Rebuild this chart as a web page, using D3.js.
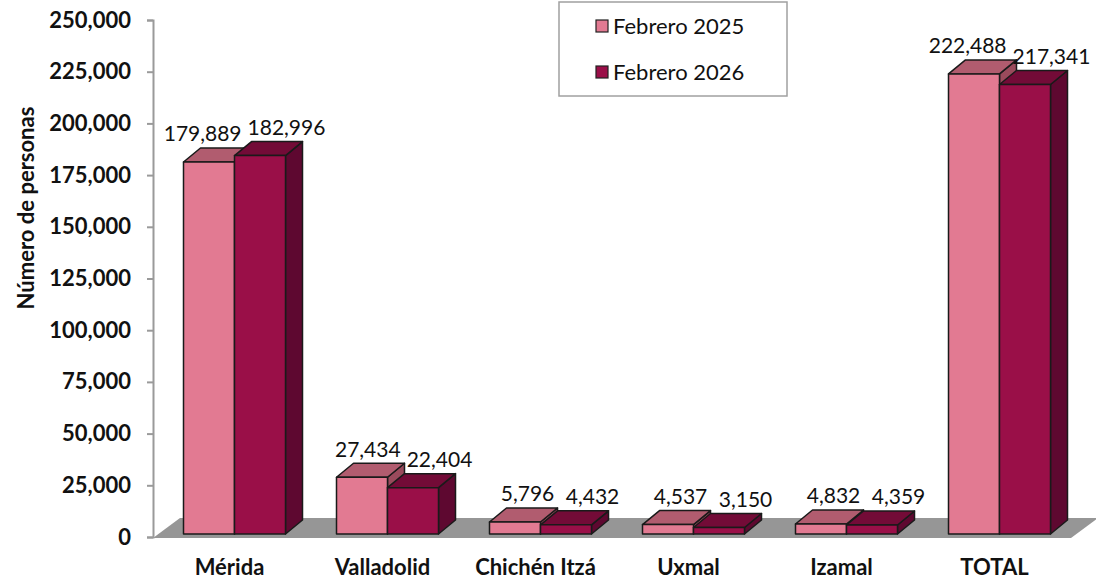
<!DOCTYPE html>
<html>
<head>
<meta charset="utf-8">
<script src="https://cdn.jsdelivr.net/npm/d3@7"></script>
<style>
  body { margin: 0; background: #fff; }
  text { font-family: Lato, "Open Sans", sans-serif; fill: #111; }
</style>
</head>
<body>
<div id="chart"></div>
<script>
// chart data
var categories = ["Mérida", "Valladolid", "Chichén Itzá", "Uxmal", "Izamal", "TOTAL"];
var seriesNames = ["Febrero 2025", "Febrero 2026"];
var feb2025 = [179889, 27434, 5796, 4537, 4832, 222488];
var feb2026 = [182996, 22404, 4432, 3150, 4359, 217341];
var yTicks = [0, 25000, 50000, 75000, 100000, 125000, 150000, 175000, 200000, 225000, 250000];

var svgWidth = 1096;
var svgHeight = 579;

// colours: front, top, side
var palette = [
  { front: "#e27a92", top: "#b15c6f", side: "#9a4a5c" },
  { front: "#9a0f48", top: "#730b37", side: "#5e0830" }
];

var svg = d3.select("#chart")
  .append("svg")
  .attr("width", svgWidth)
  .attr("height", svgHeight);

// scales
var xScale = d3.scaleBand()
  .domain(categories)
  .range([153, 1071])
  .paddingInner(1 / 3)
  .paddingOuter(1 / 6);

var xSeries = d3.scaleBand()
  .domain(seriesNames)
  .range([0, xScale.bandwidth()]);

var yScale = d3.scaleLinear()
  .domain([0, 250000])
  .range([537, 20]);

// 3d offsets
var depthX = 17, depthY = 14;   // bar depth
var recessX = 5, recessY = 3;   // bars sit a bit back from the floor front edge
var floorDX = 27, floorDY = 20;

// floor
var y0 = yScale(0);
svg.append("polygon")
  .attr("points", [
    [153, y0 + 1], [153 + floorDX, y0 + 1 - floorDY],
    [1071 + floorDX, y0 + 1 - floorDY], [1071, y0 + 1]
  ].map(p => p.join(",")).join(" "))
  .attr("fill", "#969696");

// y axis
var leftAxis = d3.axisLeft(yScale)
  .tickValues(yTicks)
  .tickFormat(d3.format(","))
  .tickSize(6)
  .tickPadding(16);

var axisG = svg.append("g")
  .attr("transform", "translate(153,0)")
  .call(leftAxis);
axisG.select(".domain").attr("stroke", "#9a9a9a").attr("stroke-width", 2);
axisG.selectAll(".tick line").attr("stroke", "#9a9a9a").attr("stroke-width", 2);
axisG.selectAll(".tick text")
  .style("font-family", "Lato, sans-serif")
  .style("font-size", "22px")
  .style("font-weight", "bold")
  .attr("fill", "#111");

svg.append("text")
  .attr("transform", "translate(26,208) rotate(-90)")
  .attr("text-anchor", "middle")
  .attr("dy", "0.35em")
  .style("font-size", "22px")
  .style("font-weight", "bold")
  .text("Número de personas");

// category labels
svg.append("g").selectAll("text")
  .data(categories)
  .enter()
  .append("text")
  .attr("x", d => xScale(d) + xScale.bandwidth() / 2)
  .attr("y", 575)
  .attr("text-anchor", "middle")
  .style("font-size", "22px")
  .style("font-weight", "bold")
  .text(d => d);

// bars
var allSeries = [feb2025, feb2026];
var barsG = svg.append("g");
var labelInfo = [];

categories.forEach(function(cat, i) {
  allSeries.forEach(function(values, s) {
    var v = values[i];
    var x = xScale(cat) + xSeries(seriesNames[s]) + recessX;
    var w = xSeries.bandwidth();
    var yTop = yScale(v) - recessY;
    var yBot = yScale(0) - recessY;
    var c = palette[s];
    var g = barsG.append("g")
      .attr("stroke", "#1a1a1a")
      .attr("stroke-width", 1.5)
      .attr("stroke-linejoin", "round");
    // side
    g.append("polygon")
      .attr("points", [[x + w, yTop], [x + w + depthX, yTop - depthY], [x + w + depthX, yBot - depthY], [x + w, yBot]]
        .map(p => p.join(",")).join(" "))
      .attr("fill", c.side);
    // top
    g.append("polygon")
      .attr("points", [[x, yTop], [x + depthX, yTop - depthY], [x + w + depthX, yTop - depthY], [x + w, yTop]]
        .map(p => p.join(",")).join(" "))
      .attr("fill", c.top);
    // front
    g.append("rect")
      .attr("x", x)
      .attr("y", yTop)
      .attr("width", w)
      .attr("height", yBot - yTop)
      .attr("fill", c.front);

    labelInfo.push({
      cat: i, s: s, v: v,
      x: x + (s === 0 ? 38 : 52),
      y: yTop - depthY - 14
    });
  });
});

// data labels, pushing the first label left when it collides with the second
var fmt = d3.format(",");
var labelG = svg.append("g");
categories.forEach(function(cat, i) {
  var pair = labelInfo.filter(d => d.cat === i);
  var texts = pair.map(function(d) {
    return labelG.append("text")
      .attr("x", d.x)
      .attr("y", d.y)
      .attr("dy", "0.35em")
      .attr("text-anchor", "middle")
      .style("font-size", "21px")
      .text(fmt(d.v));
  });
  var b0 = texts[0].node().getBBox();
  var b1 = texts[1].node().getBBox();
  var vOverlap = Math.abs(pair[0].y - pair[1].y) < b0.height;
  var gap = b1.x - (b0.x + b0.width);
  if (vOverlap && gap < 6) {
    texts[0].attr("x", pair[0].x - (6 - gap));
  }
});

// legend
var legend = svg.append("g").attr("transform", "translate(559,2)");
legend.append("rect")
  .attr("width", 228)
  .attr("height", 94)
  .attr("fill", "#fff")
  .attr("stroke", "#a0a0a0")
  .attr("stroke-width", 1.5);
seriesNames.forEach(function(name, s) {
  var row = legend.append("g").attr("transform", `translate(37, ${24 + s * 46})`);
  row.append("rect")
    .attr("x", 0)
    .attr("y", -6)
    .attr("width", 12)
    .attr("height", 12)
    .attr("fill", palette[s].front)
    .attr("stroke", "#222")
    .attr("stroke-width", 1.2);
  row.append("text")
    .attr("x", 17)
    .attr("y", 0)
    .attr("dy", "0.35em")
    .style("font-size", "22px")
    .text(name);
});
</script>
</body>
</html>
